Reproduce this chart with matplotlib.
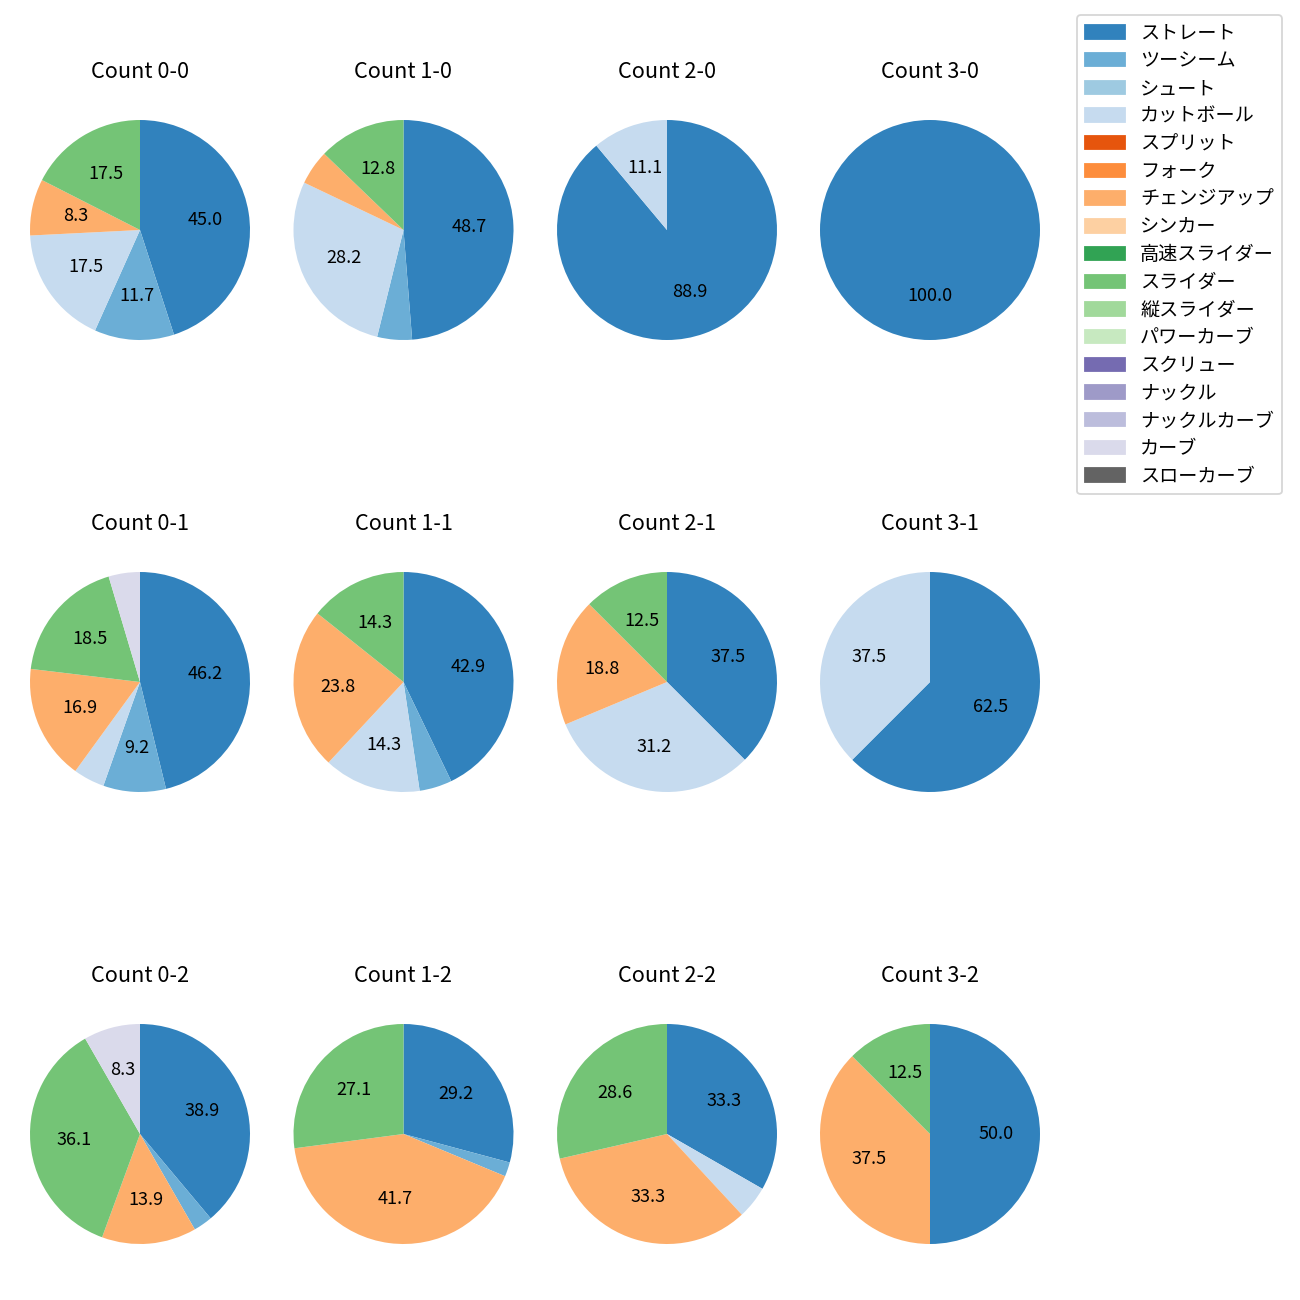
import matplotlib
matplotlib.use("Agg")
import matplotlib.pyplot as plt

plt.rcParams['font.family'] = ['Noto Sans CJK JP', 'DejaVu Sans']

pitch_types = ["ストレート", "ツーシーム", "シュート", "カットボール", "スプリット", "フォーク",
               "チェンジアップ", "シンカー", "高速スライダー", "スライダー", "縦スライダー",
               "パワーカーブ", "スクリュー", "ナックル", "ナックルカーブ", "カーブ", "スローカーブ"]
colors = ["#3182bd", "#6baed6", "#9ecae1", "#c6dbef", "#e6550d", "#fd8d3c", "#fdae6b",
          "#fdd0a2", "#31a354", "#74c476", "#a1d99b", "#c7e9c0", "#756bb1", "#9e9ac8",
          "#bcbddc", "#dadaeb", "#636363"]

counts = ["0-0", "1-0", "2-0", "3-0", "0-1", "1-1", "2-1", "3-1", "0-2", "1-2", "2-2", "3-2"]

# percentages per pitch type
c00 = {"ストレート": 45.0, "ツーシーム": 11.7, "カットボール": 17.5, "チェンジアップ": 8.3, "スライダー": 17.5}
c10 = {"ストレート": 48.7, "ツーシーム": 5.1, "カットボール": 28.2, "チェンジアップ": 5.1, "スライダー": 12.8}
c20 = {"ストレート": 88.9, "カットボール": 11.1}
c30 = {"ストレート": 100.0}
c01 = {"ストレート": 46.2, "ツーシーム": 9.2, "カットボール": 4.6, "チェンジアップ": 16.9, "スライダー": 18.5, "カーブ": 4.6}
c11 = {"ストレート": 42.9, "ツーシーム": 4.8, "カットボール": 14.3, "チェンジアップ": 23.8, "スライダー": 14.3}
c21 = {"ストレート": 37.5, "カットボール": 31.2, "チェンジアップ": 18.8, "スライダー": 12.5}
c31 = {"ストレート": 62.5, "カットボール": 37.5}
c02 = {"ストレート": 38.9, "ツーシーム": 2.8, "チェンジアップ": 13.9, "スライダー": 36.1, "カーブ": 8.3}
c12 = {"ストレート": 29.2, "ツーシーム": 2.1, "チェンジアップ": 41.7, "スライダー": 27.1}
c22 = {"ストレート": 33.3, "カットボール": 4.8, "チェンジアップ": 33.3, "スライダー": 28.6}
c32 = {"ストレート": 50.0, "チェンジアップ": 37.5, "スライダー": 12.5}
data = [c00, c10, c20, c30, c01, c11, c21, c31, c02, c12, c22, c32]

W, H = 1300, 1300
fig = plt.figure(figsize=(10, 10), dpi=130)

col_cx = [140, 403.5, 667, 930]
row_cy = [230, 682, 1134]
size = 275

for i, (cnt, d) in enumerate(zip(counts, data)):
    r, c = divmod(i, 4)
    cx, cy = col_cx[c], row_cy[r]
    ax = fig.add_axes([(cx - size / 2) / W, 1 - (cy + size / 2) / H, size / W, size / H])
    labels = [p for p in pitch_types if d.get(p, 0) > 0]
    vals = [d[p] for p in labels]
    cols = [colors[pitch_types.index(p)] for p in labels]
    ax.pie(vals, colors=cols, startangle=90, counterclock=False,
           autopct=lambda pct: f"{pct:.1f}" if pct >= 7 else "",
           textprops={'fontsize': 10})
    ax.set_aspect('equal')
    ax.set_title(f"Count {cnt}", fontsize=12, pad=8)

handles = [matplotlib.patches.Patch(color=col, label=lab) for lab, col in zip(pitch_types, colors)]
fig.legend(handles=handles, loc='upper left', bbox_to_anchor=(1077 / W, 1 - 15 / H),
           borderaxespad=0, fontsize=10.6, handlelength=2.1, labelspacing=0.35)

fig.savefig("out.png", dpi=130)
